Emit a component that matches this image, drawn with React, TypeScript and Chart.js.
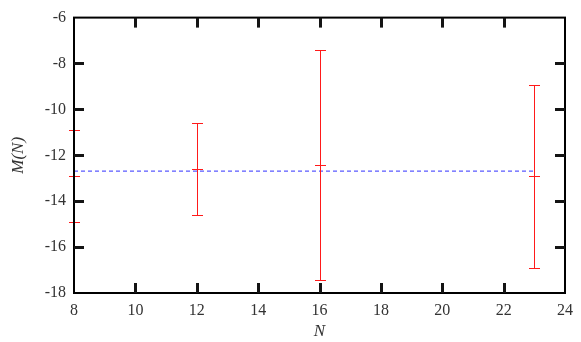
import React, { useEffect, useRef } from "react";
import { Chart, registerables } from "chart.js";

Chart.register(...registerables);

const nValues = [8, 12, 16, 23];
const means = [-12.9, -12.6, -12.43, -12.92];
const errors = [2.0, 2.0, 5.0, 4.0];
const avgX = [8, 23];
const avgValue = -12.69;
const xTicks = [8, 10, 12, 14, 16, 18, 20, 22, 24];
const yTicks = [-18, -16, -14, -12, -10, -8, -6];

const FONT = "'Liberation Serif', 'DejaVu Serif', serif";

const framePlugin = {
  id: "frameAndErrors",
  afterDraw(chart: any) {
    const { ctx, chartArea, scales } = chart;
    const xs = scales.x;
    const ys = scales.y;
    const { left, right, top, bottom } = chartArea;
    ctx.save();
    // error bars
    const cap = 5;
    ctx.fillStyle = "#ff1a1a";
    for (let i = 0; i < nValues.length; i++) {
      const px = Math.round(xs.getPixelForValue(nValues[i]));
      const pm = Math.round(ys.getPixelForValue(means[i]));
      const pt = Math.round(ys.getPixelForValue(means[i] + errors[i]));
      const pb = Math.round(ys.getPixelForValue(means[i] - errors[i]));
      ctx.fillRect(px, pt, 1, pb - pt + 1);
      ctx.fillRect(px - cap, pt, cap * 2 + 1, 1);
      ctx.fillRect(px - cap, pm, cap * 2 + 1, 1);
      ctx.fillRect(px - cap, pb, cap * 2 + 1, 1);
    }
    // frame
    ctx.strokeStyle = "#000";
    ctx.lineWidth = 2;
    ctx.strokeRect(left, top, right - left, bottom - top);
    // inward ticks on all four sides
    ctx.fillStyle = "#141414";
    const tl = 10;
    for (let i = 1; i < xTicks.length - 1; i++) {
      const px = Math.round(xs.getPixelForValue(xTicks[i]));
      ctx.fillRect(px - 1, bottom - tl, 3, tl);
      ctx.fillRect(px - 1, top, 3, tl);
    }
    for (let i = 1; i < yTicks.length - 1; i++) {
      const py = Math.round(ys.getPixelForValue(yTicks[i]));
      ctx.fillRect(left, py - 1, tl, 3);
      ctx.fillRect(right - tl, py - 1, tl, 3);
    }
    ctx.restore();
  },
};

export default function App() {
  const ref = useRef<HTMLCanvasElement | null>(null);
  useEffect(() => {
    document.body.style.margin = "0";
    const chart = new Chart(ref.current as HTMLCanvasElement, {
      type: "scatter",
      data: {
        datasets: [
          {
            type: "line",
            label: "mean",
            data: avgX.map((x) => ({ x, y: avgValue })),
            borderColor: "#5a5aff",
            borderWidth: 1.2,
            borderDash: [4, 3],
            pointRadius: 0,
            fill: false,
          },
        ],
      },
      options: {
        animation: false,
        responsive: false,
        maintainAspectRatio: false,
        layout: { padding: { top: 7, right: 14, left: 0, bottom: 0 } },
        plugins: {
          legend: { display: false },
          tooltip: { enabled: false },
        },
        scales: {
          x: {
            type: "linear",
            min: 8,
            max: 24,
            afterBuildTicks: (s: any) => {
              s.ticks = xTicks.map((v) => ({ value: v }));
            },
            afterFit: (s: any) => {
              s.height = 49;
            },
            grid: { display: false, drawTicks: false },
            border: { display: false },
            ticks: {
              padding: 8,
              color: "#333",
              font: { family: FONT, size: 16 },
              maxRotation: 0,
              callback: (v: any) => String(v),
            },
            title: {
              display: true,
              text: "N",
              color: "#333",
              font: { family: FONT, size: 17, style: "italic" },
              padding: { top: 0, bottom: 0 },
            },
          },
          y: {
            type: "linear",
            min: -18,
            max: -6,
            afterBuildTicks: (s: any) => {
              s.ticks = yTicks.map((v) => ({ value: v }));
            },
            afterFit: (s: any) => {
              s.width = 74;
            },
            grid: { display: false, drawTicks: false },
            border: { display: false },
            ticks: {
              padding: 8,
              color: "#333",
              font: { family: FONT, size: 16 },
              callback: (v: any) => String(v),
            },
            title: {
              display: true,
              text: "M(N)",
              color: "#333",
              font: { family: FONT, size: 17, style: "italic" },
              padding: { top: 8, bottom: 0 },
            },
          },
        },
      },
      plugins: [framePlugin],
    });
    return () => chart.destroy();
  }, []);
  return (
    <div style={{ width: 581, height: 342 }}>
      <canvas ref={ref} width={581} height={342} style={{ width: 581, height: 342 }} />
    </div>
  );
}
